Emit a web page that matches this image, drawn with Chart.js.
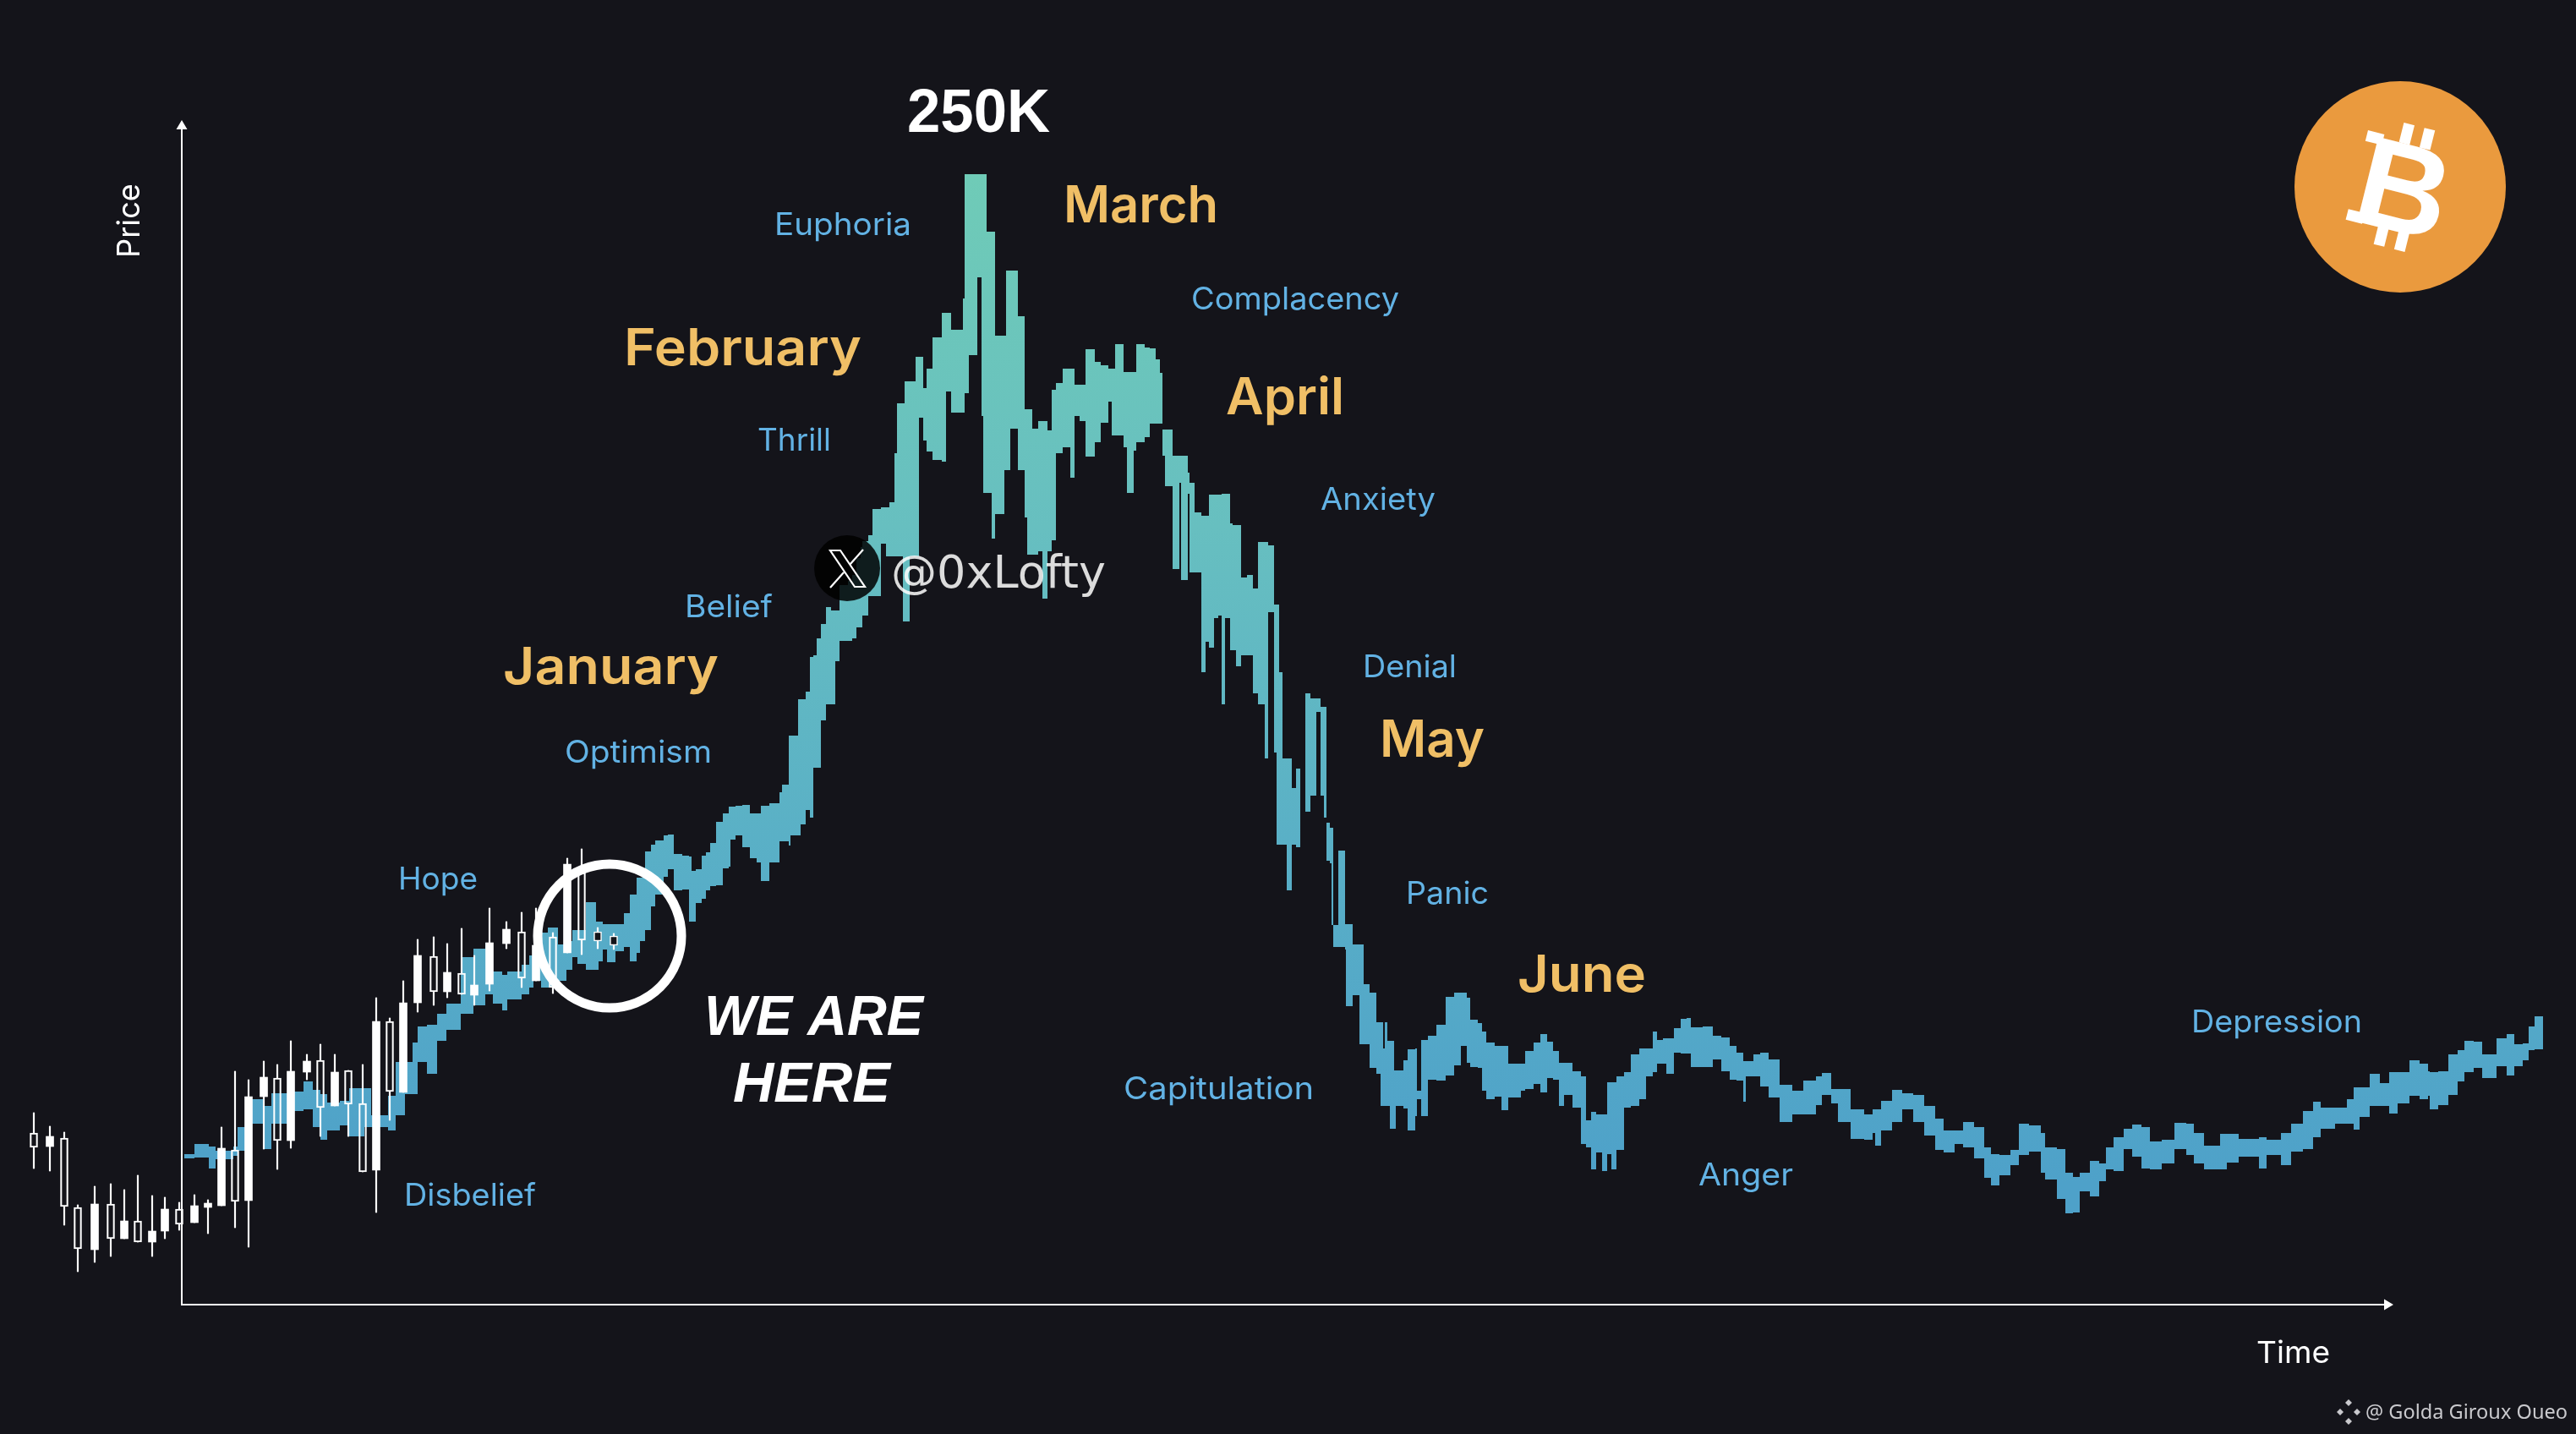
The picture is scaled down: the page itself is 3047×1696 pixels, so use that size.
<!DOCTYPE html>
<html>
<head>
<meta charset="utf-8">
<title>Bitcoin market cycle</title>
<script src="https://cdn.jsdelivr.net/npm/chart.js@4/dist/chart.umd.min.js"></script>
<style>
  html, body { margin: 0; padding: 0; background: #14141a; }
  canvas { display: block; }
</style>
</head>
<body>
<canvas id="cycleChart" width="3047" height="1696"></canvas>
<script>
// price ribbon, each value holds until the next time
const ribbonTime = [3,15,32,40,61,66,83,98,106,129,144,155,164,172,187,198,216,224,244,253,264,273,279,290,302,313,330,345,359,368,379,385,402,411,416,425,433,445,455,462,468,478,490,493,498,503,513,523,530,538,542,548,555,560,570,575,582,592,600,603,608,615,620,625,632,640,647,649,655,663,672,680,685,695,707,710,718,720,729,732,738,743,747,751,756,762,768,773,778,788,793,798,803,805,812,817,827,833,837,843,846,853,855,861,868,872,877,881,888,899,904,910,924,926,931,941,946,948,952,958,962,973,975,980,989,997,1000,1006,1013,1018,1024,1029,1034,1042,1051,1056,1062,1069,1080,1087,1096,1100,1104,1114,1118,1126,1129,1139,1145,1152,1157,1160,1163,1172,1180,1182,1190,1192,1198,1206,1211,1215,1221,1226,1230,1234,1240,1243,1247,1253,1260,1267,1273,1281,1285,1292,1295,1298,1302,1307,1313,1318,1323,1329,1335,1342,1347,1351,1354,1358,1360,1362,1368,1376,1377,1385,1393,1398,1405,1413,1418,1421,1423,1426,1429,1434,1436,1445,1450,1459,1461,1466,1474,1484,1495,1505,1513,1520,1524,1533,1538,1543,1553,1561,1569,1584,1589,1599,1607,1615,1622,1629,1635,1645,1655,1661,1667,1673,1680,1686,1691,1697,1706,1714,1724,1732,1740,1745,1752,1756,1765,1773,1780,1785,1799,1811,1821,1831,1839,1847,1850,1859,1867,1877,1890,1905,1918,1933,1940,1951,1959,1974,1990,2000,2003,2010,2023,2035,2048,2061,2074,2084,2097,2107,2120,2132,2140,2150,2163,2173,2185,2199,2204,2218,2228,2237,2245,2257,2268,2276,2285,2297,2307,2318,2328,2342,2357,2371,2380,2392,2411,2419,2433,2457,2466,2483,2495,2509,2521,2530,2547,2561,2569,2576,2588,2600,2611,2621,2635,2647,2657,2659,2669,2681,2692,2700,2711,2721,2738,2750,2759,2769,2776,2783,2793];
const ribbonHigh = [178,190,187,182,187,210,243,235,250,252,264,254,249,239,241,256,256,224,247,287,287,310,329,331,344,356,411,421,428,394,390,394,402,413,425,440,446,426,430,443,443,476,453,453,450,450,450,463,485,505,505,536,544,549,555,556,533,531,530,513,515,531,535,546,571,581,589,589,590,591,581,581,590,593,606,615,673,673,716,716,725,766,768,788,805,825,821,821,851,856,863,883,896,903,910,941,943,943,949,1007,1066,1066,1092,1092,1121,1121,1084,1107,1144,1173,1173,1153,1190,1337,1337,1337,1337,1337,1269,1269,1146,1146,1223,1223,1169,1059,1059,1036,1045,1045,1034,1082,1090,1107,1107,1088,1088,1130,1115,1111,1107,1107,1136,1103,1103,1103,1136,1132,1131,1118,1102,1035,1035,1004,1004,1004,984,972,937,933,933,958,958,958,959,959,924,922,922,860,863,847,902,902,898,828,828,748,646,646,611,634,583,723,717,717,707,707,570,564,564,449,537,450,450,426,426,379,369,334,334,303,334,312,312,277,277,289,302,303,253,313,318,331,364,369,369,363,337,333,323,310,306,306,285,285,300,310,320,311,300,286,286,276,270,218,228,225,225,263,263,270,275,296,303,303,323,313,315,315,327,338,339,328,329,318,316,306,298,288,288,296,298,290,260,253,265,270,274,255,255,231,225,231,231,241,254,250,248,235,220,206,206,216,210,186,178,177,183,214,212,203,186,184,156,151,156,170,167,186,198,208,213,210,193,195,215,214,203,188,202,202,196,198,195,203,214,229,240,233,233,243,257,257,273,262,275,275,289,285,276,275,276,296,301,312,311,296,315,320,308,309,329,341,341];
const ribbonLow = [173,174,161,172,176,182,214,184,214,229,231,210,195,206,212,199,210,210,206,224,249,249,287,273,312,325,344,354,367,356,348,361,367,375,383,375,375,383,396,411,403,396,396,406,420,405,418,423,406,416,430,443,471,485,506,515,490,491,453,453,475,480,490,495,496,516,518,550,555,541,528,523,501,523,548,548,543,555,555,568,585,576,635,635,691,710,710,761,785,785,788,801,801,815,838,838,900,885,885,885,885,808,808,885,885,1049,1022,1009,999,997,1080,1055,1055,1078,1123,1215,1051,960,960,906,935,987,987,1036,987,931,887,887,891,835,891,904,1007,1014,978,1051,1045,1003,1020,1043,1068,1028,1028,1014,960,1010,1020,1026,1042,1042,1042,1004,968,870,972,857,959,866,866,748,784,777,812,815,710,812,774,774,755,768,768,723,710,646,819,653,544,544,544,490,544,541,583,583,602,701,602,576,525,522,449,423,423,420,353,366,308,308,280,273,235,235,235,235,208,208,235,232,206,223,243,223,266,265,271,283,306,286,281,280,253,243,246,230,245,253,255,261,251,268,266,235,248,233,190,186,160,180,158,178,160,183,233,235,243,270,275,285,285,273,298,297,297,281,281,290,276,266,265,240,270,270,258,245,216,225,225,236,248,238,216,196,195,203,188,206,216,231,216,200,183,180,190,186,173,150,141,153,165,177,181,156,148,125,108,109,134,128,146,160,158,184,175,161,160,167,184,177,167,160,160,168,175,161,177,165,181,184,198,208,214,214,207,222,235,235,226,238,247,243,247,231,236,248,264,275,280,268,282,271,282,289,301,302,302];

// candles at the start of the cycle
const candleTime = [-175,-156,-139,-123,-103,-84,-68,-52,-35,-20,-3,15,31,47,63,79,97,113,129,148,164,181,197,214,230,246,262,279,298,314,331,346,364,384,402,419,439,456,473,492,511];
const candleHigh = [227,211,204,118,140,143,136,153,129,127,121,130,124,210,276,266,288,284,312,296,308,296,277,284,363,339,383,432,435,427,445,413,469,453,464,469,440,528,539,446,439];
const candleBodyTop = [203,199,197,115,119,119,99,99,87,113,113,117,120,185,183,246,269,268,276,288,289,275,277,238,335,335,357,413,412,393,392,378,428,444,441,425,435,521,511,441,436];
const candleBodyBottom = [186,187,116,66,65,78,78,74,74,87,95,97,115,117,122,123,246,194,194,275,233,235,237,157,159,252,251,357,370,370,367,366,379,427,386,383,375,416,431,430,425];
const candleLow = [161,158,94,39,50,57,78,74,57,78,88,97,84,117,91,68,184,160,185,266,199,235,199,157,109,218,251,346,354,363,367,354,371,421,375,383,368,416,414,421,420];
const candleKind = ['h','f','h','h','f','h','f','h','f','f','h','f','f','f','h','f','f','h','f','f','h','f','h','h','f','h','f','f','h','f','h','f','f','f','h','f','h','f','h','d','d'];

// text
const phaseNames = ['Euphoria','Complacency','Thrill','Anxiety','Belief','Denial','Optimism','Hope','Panic','Capitulation','Depression','Anger','Disbelief'];
const monthNames = ['March','February','April','January','May','June'];
const targetText = '250K';
const hereText = ['WE ARE','HERE'];
const axisNames = ['Price','Time'];
const handleText = '@0xLofty';
const creditText = '@ Golda Giroux Oueo';

// left, right, baseline of each text on the page
const phaseBoxes = [[916,1078,278],[1409,1655,366],[896,983,533],[1562,1698,603],[810,914,730],[1612,1723,801],[668,842,902],[471,565,1052],[1663,1761,1069],[1329,1554,1300],[2592,2794,1221],[2009,2121,1402],[478,634,1426]];
const monthBoxes = [[1258,1441,263],[738,1019,432],[1450,1590,490],[595,850,809],[1632,1756,895],[1795,1947,1173]];
const hereBoxes = [[833,1092,1224],[867,1053,1303]];

const bg = '#14141a';
const phaseColor = '#62b2e4';
const monthColor = '#f0bf66';

function ribbonGradient(ctx) {
  const g = ctx.chart.ctx.createLinearGradient(0, 206, 0, 1400);
  g.addColorStop(0, '#6fcbb7');
  g.addColorStop(0.35, '#67bfc0');
  g.addColorStop(0.7, '#58aec7');
  g.addColorStop(1, '#4ea1c9');
  return g;
}

function points(values) {
  return ribbonTime.map((t, i) => ({ x: t, y: values[i] }));
}

function bodies(kind) {
  const out = [];
  candleTime.forEach((t, i) => {
    if (candleKind[i] === kind) out.push({ x: t, y: [candleBodyBottom[i], candleBodyTop[i]] });
  });
  return out;
}

const wicks = [];
candleTime.forEach((t, i) => {
  wicks.push({ x: t, y: [candleBodyTop[i], candleHigh[i]] });
  wicks.push({ x: t, y: [candleLow[i], candleBodyBottom[i]] });
});

function fitted(ctx, text, left, right, baseline, font, color) {
  ctx.save();
  ctx.font = font;
  ctx.fillStyle = color;
  ctx.textAlign = 'left';
  ctx.textBaseline = 'alphabetic';
  const w = ctx.measureText(text).width;
  ctx.translate(left, baseline);
  ctx.scale((right - left) / w, 1);
  ctx.fillText(text, 0, 0);
  ctx.restore();
}

const overlay = {
  id: 'overlay',
  afterDatasetsDraw(chart) {
    const ctx = chart.ctx;
    const x = chart.scales.x;
    const y = chart.scales.y;
    const x0 = x.getPixelForValue(0);
    const y0 = y.getPixelForValue(0);

    // axes
    ctx.save();
    ctx.strokeStyle = '#ffffff';
    ctx.fillStyle = '#ffffff';
    ctx.lineWidth = 2;
    ctx.beginPath();
    ctx.moveTo(x0, 150);
    ctx.lineTo(x0, y0);
    ctx.lineTo(2822, y0);
    ctx.stroke();
    ctx.beginPath();
    ctx.moveTo(x0, 142);
    ctx.lineTo(x0 + 6.5, 153);
    ctx.lineTo(x0 - 6.5, 153);
    ctx.closePath();
    ctx.moveTo(2831, y0);
    ctx.lineTo(2820, y0 - 6.5);
    ctx.lineTo(2820, y0 + 6.5);
    ctx.closePath();
    ctx.fill();
    ctx.restore();

    // we are here ring
    ctx.save();
    ctx.strokeStyle = '#ffffff';
    ctx.lineWidth = 11;
    ctx.beginPath();
    ctx.arc(x.getPixelForValue(506), y.getPixelForValue(436), 85, 0, Math.PI * 2);
    ctx.stroke();
    ctx.restore();

    phaseNames.forEach((n, i) => {
      const b = phaseBoxes[i];
      fitted(ctx, n, b[0], b[1], b[2], '400 37px Inter', phaseColor);
    });
    monthNames.forEach((n, i) => {
      const b = monthBoxes[i];
      fitted(ctx, n, b[0], b[1], b[2], '600 60px Inter', monthColor);
    });
    hereText.forEach((n, i) => {
      const b = hereBoxes[i];
      fitted(ctx, n, b[0], b[1], b[2], 'italic 700 67px "Liberation Sans"', '#ffffff');
    });
    fitted(ctx, targetText, 1073, 1242, 156, '700 73px "Liberation Sans"', '#ffffff');
    fitted(ctx, axisNames[1], 2669, 2756, 1612, '400 36px Inter', '#ffffff');

    ctx.save();
    ctx.translate(165, 305);
    ctx.rotate(-Math.PI / 2);
    fitted(ctx, axisNames[0], 0, 88, 0, '400 37px Inter', '#ffffff');
    ctx.restore();

    // handle badge
    ctx.save();
    ctx.fillStyle = 'rgba(0,0,0,0.85)';
    ctx.beginPath();
    ctx.arc(1002, 672, 39, 0, Math.PI * 2);
    ctx.fill();
    ctx.strokeStyle = '#ffffff';
    ctx.lineWidth = 2.2;
    ctx.beginPath();
    ctx.moveTo(982, 651);
    ctx.lineTo(994, 651);
    ctx.lineTo(1023, 694);
    ctx.lineTo(1011, 694);
    ctx.closePath();
    ctx.moveTo(1021, 650);
    ctx.lineTo(1005, 668);
    ctx.moveTo(998, 677);
    ctx.lineTo(982, 695);
    ctx.stroke();
    ctx.restore();
    fitted(ctx, handleText, 1054, 1308, 695, '400 53px "DejaVu Sans"', 'rgba(255,255,255,0.85)');

    // coin
    ctx.save();
    ctx.fillStyle = '#ea9a3e';
    ctx.beginPath();
    ctx.arc(2839, 221, 125, 0, Math.PI * 2);
    ctx.fill();
    ctx.translate(2842, 221);
    ctx.rotate(14 * Math.PI / 180);
    ctx.fillStyle = '#ffffff';
    ctx.font = '700 150px "Liberation Sans"';
    ctx.textAlign = 'center';
    ctx.fillText('B', 2, 53);
    ctx.fillRect(-17, -74, 13, 24);
    ctx.fillRect(8, -74, 13, 24);
    ctx.fillRect(-17, 50, 13, 24);
    ctx.fillRect(8, 50, 13, 24);
    ctx.fillRect(-56, -55, 20, 13);
    ctx.fillRect(-56, 41, 20, 13);
    ctx.restore();

    // credit
    ctx.save();
    ctx.fillStyle = '#c9c9cd';
    ctx.translate(2778, 1670);
    [[0, -11], [0, 11], [-10, 0], [10, 0]].forEach(p => {
      ctx.beginPath();
      ctx.moveTo(p[0], p[1] - 4);
      ctx.lineTo(p[0] + 4, p[1]);
      ctx.lineTo(p[0], p[1] + 4);
      ctx.lineTo(p[0] - 4, p[1]);
      ctx.closePath();
      ctx.fill();
    });
    ctx.restore();
    fitted(ctx, creditText, 2798, 3037, 1678, '400 23px "Noto Sans"', '#c9c9cd');
  }
};

new Chart(document.getElementById('cycleChart'), {
  type: 'bar',
  data: {
    datasets: [
      { type: 'line', data: points(ribbonLow), stepped: true, pointRadius: 0, borderWidth: 0, fill: false, order: 4 },
      { type: 'line', data: points(ribbonHigh), stepped: true, pointRadius: 0, borderWidth: 0, fill: '-1', backgroundColor: ribbonGradient, order: 3 },
      { data: wicks, stack: 'c', barThickness: 1.5, backgroundColor: '#ffffff', order: 2 },
      { data: bodies('f'), stack: 'c', barThickness: 9, backgroundColor: '#ffffff', order: 1 },
      { data: bodies('h'), stack: 'c', barThickness: 9, backgroundColor: 'rgba(0,0,0,0)', borderColor: '#ffffff', borderWidth: 1.5, borderSkipped: false, order: 1 },
      { data: bodies('d'), stack: 'c', barThickness: 9, backgroundColor: bg, borderColor: '#ffffff', borderWidth: 1.5, borderSkipped: false, order: 1 }
    ]
  },
  options: {
    responsive: false,
    animation: false,
    events: [],
    layout: { padding: 0 },
    plugins: { legend: { display: false }, tooltip: { enabled: false } },
    scales: {
      x: { type: 'linear', offset: false, min: -215, max: 2832, display: false },
      y: { type: 'linear', min: -153, max: 1543, display: false, stacked: false }
    }
  },
  plugins: [overlay]
});
</script>
</body>
</html>
